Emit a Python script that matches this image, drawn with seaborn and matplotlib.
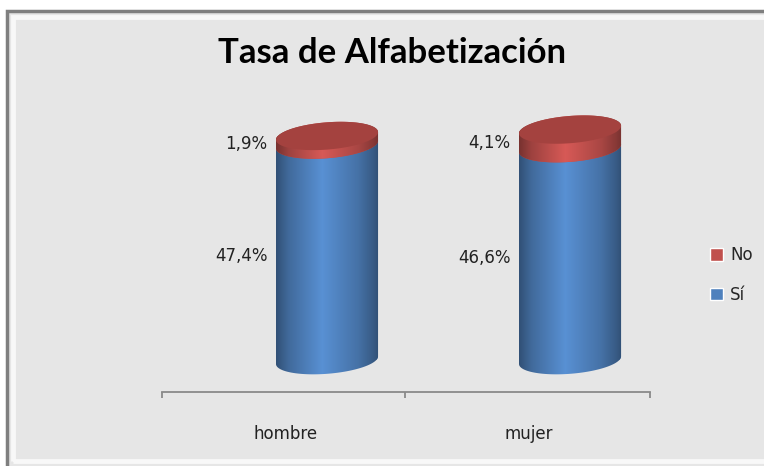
import numpy as np
import pandas as pd
import matplotlib
matplotlib.use("Agg")
import matplotlib.pyplot as plt
import seaborn as sns
from matplotlib.patches import Polygon, Rectangle, Patch
from matplotlib.colors import LinearSegmentedColormap

# datos
categorias = ["hombre", "mujer"]
si = [47.4, 46.6]
no = [1.9, 4.1]
etiquetas_si = ["47,4%", "46,6%"]
etiquetas_no = ["1,9%", "4,1%"]
leyenda = ["No", "Sí"]
titulo = "Tasa de Alfabetización"

azul = "#4f81bd"
rojo = "#c0504d"

df = pd.DataFrame({"sexo": categorias, "Sí": si, "No": no})
df["total"] = df["Sí"] + df["No"]

sns.set_theme(style="white")
plt.rcParams["font.family"] = ["DejaVu Sans"]

fig = plt.figure(figsize=(7.64, 4.66), dpi=100, facecolor="white")
# marco gris del gráfico
fig.patches.append(Rectangle((7 / 764, -0.05), 1.1, 1.05 - 11 / 466, transform=fig.transFigure,
                             facecolor="#e6e6e6", edgecolor="#7f7f7f", linewidth=2.5, zorder=-10))
fig.patches.append(Rectangle((13 / 764, 5 / 466), 1.1, 1 - 22 / 466, transform=fig.transFigure,
                             facecolor="none", edgecolor="#f8f8f8", linewidth=3.5, zorder=-9))

ax = fig.add_axes([162 / 764, 1 - 392 / 466, 488 / 764, 332 / 466])
ax.set_facecolor("none")

# barras (seaborn): primero el total en rojo, encima Sí en azul
sns.barplot(data=df, x="sexo", y="total", color=rojo, width=0.42, saturation=1, ax=ax)
sns.barplot(data=df, x="sexo", y="Sí", color=azul, width=0.42, saturation=1, ax=ax)
barras_rojas = ax.patches[:2]
barras_azules = ax.patches[2:4]

b = 3.0    # semieje vertical de la elipse (unidades de datos)
k = 4.0    # inclinación de la elipse
t = np.linspace(0, np.pi, 60)


def arco(cx, a, y, abajo=True):
    # media elipse inclinada: abajo -> frente (izq a der), arriba -> fondo (der a izq)
    tt = t if not abajo else t + np.pi
    xs = cx + a * np.cos(tt)
    ys = y + b * np.sin(tt) + k * (xs - cx)
    return np.column_stack([xs, ys])


def mapa(base, f_osc=0.62, f_luz=1.12):
    c = np.array(matplotlib.colors.to_rgb(base))
    osc = c * f_osc
    luz = np.clip(c * f_luz, 0, 1)
    return LinearSegmentedColormap.from_list(
        "cil", [(0, osc), (0.12, c * 0.82), (0.45, luz), (0.8, c * 0.88), (0.95, c * 0.7), (1, osc)])


grad = np.linspace(0, 1, 256)[None, :]


def segmento(p, y0, y1, cmap, z):
    x0, w = p.get_x(), p.get_width()
    cx, a = x0 + w / 2, w / 2
    inf = arco(cx, a, y0, abajo=True)
    sup = arco(cx, a, y1, abajo=False)
    poly = Polygon(np.vstack([inf, sup]), closed=True, facecolor="none", edgecolor="none",
                   transform=ax.transData)
    ax.add_patch(poly)
    p.set_clip_path(poly)
    p.set_zorder(z)
    p.set_edgecolor("none")
    im = ax.imshow(grad, extent=(x0, x0 + w, y0 - b - k * a - 1, y1 + b + k * a + 1),
                   cmap=cmap, aspect="auto", zorder=z + 0.5, interpolation="bilinear")
    im.set_clip_path(poly)
    return cx, a


for i in range(len(categorias)):
    pa, pr = barras_azules[i], barras_rojas[i]
    segmento(pa, 0, si[i], mapa(azul), 2)
    cx, a = segmento(pr, si[i], si[i] + no[i], mapa(rojo), 3)
    # tapa superior
    tapa = np.vstack([arco(cx, a, si[i] + no[i], abajo=False),
                      arco(cx, a, si[i] + no[i], abajo=True)])
    ax.add_patch(Polygon(tapa, closed=True, facecolor="#a4423f", edgecolor="none", zorder=5))
    # etiquetas
    xl = pa.get_x() - 0.035
    ax.text(xl, si[i] / 2 - k * a, etiquetas_si[i], ha="right", va="center", fontsize=12,
            color="#222222", zorder=6)
    ax.text(xl, si[i] + no[i] / 2 - k * a, etiquetas_no[i], ha="right", va="center", fontsize=12,
            color="#222222", zorder=6)

ax.set_xlim(-0.679, 1.329)
ax.set_ylim(-7, 66)
ax.set_yticks([])
ax.set_xlabel("")
ax.set_ylabel("")
for s in ["left", "right", "top"]:
    ax.spines[s].set_visible(False)
ax.spines["bottom"].set_color("#8a8a8a")
ax.spines["bottom"].set_linewidth(1.3)

ax.set_xticks([-0.17, 0.83], labels=categorias)
ax.set_xticks([-0.679, 0.321, 1.329], minor=True)
ax.tick_params(axis="x", which="major", length=0, pad=24, labelsize=12, labelcolor="#222222")
ax.tick_params(axis="x", which="minor", bottom=True, length=4, width=1.3, color="#8a8a8a",
               direction="out")

fig.text(392 / 764, 1 - 53 / 466, titulo, ha="center", va="center", fontsize=25,
         fontweight="bold", family=["Lato", "DejaVu Sans"], color="black")

manejadores = [Patch(facecolor=rojo), Patch(facecolor=azul)]
fig.legend(manejadores, leyenda, loc="center left", bbox_to_anchor=(710 / 764, 1 - 275 / 466),
           frameon=False, fontsize=12, handlelength=0.8, handleheight=0.8, labelspacing=1.3,
           handletextpad=0.4, borderaxespad=0, borderpad=0)

fig.savefig("out.png", dpi=100, facecolor=fig.get_facecolor())
